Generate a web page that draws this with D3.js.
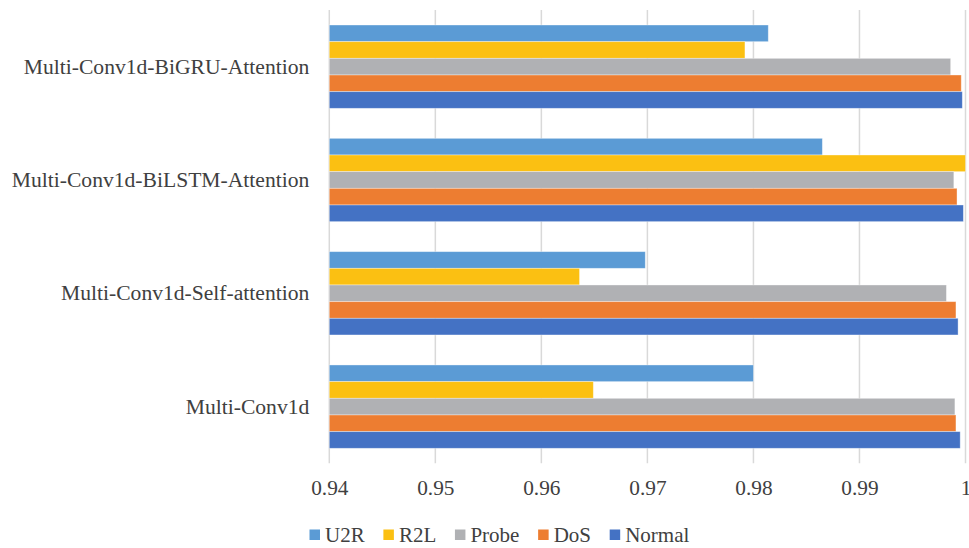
<!DOCTYPE html>
<html>
<head>
<meta charset="utf-8">
<script src="https://cdn.jsdelivr.net/npm/d3@7"></script>
<style>
  html, body { margin: 0; padding: 0; background: #fff; }
  svg { display: block; }
  svg text { font-family: 'Liberation Serif', 'Times New Roman', serif; fill: #404040; }
</style>
</head>
<body>
<svg id="chart" width="969" height="548"></svg>
<script>
// Models, listed bottom to top on the category axis
const models = ["Multi-Conv1d", "Multi-Conv1d-Self-attention", "Multi-Conv1d-BiLSTM-Attention", "Multi-Conv1d-BiGRU-Attention"];
// Attack classes, in legend order (top bar of each group first)
const classes = ["U2R", "R2L", "Probe", "DoS", "Normal"];
const classColors = ["#5B9BD5", "#FBC012", "#B0B1B4", "#ED7D31", "#4472C4"];

// Per-class scores for each model (same order as models)
const u2r    = [0.9800, 0.9698, 0.9865, 0.9814];
const r2l    = [0.9649, 0.9636, 1.0000, 0.9792];
const probe  = [0.9990, 0.9982, 0.9989, 0.9986];
const dos    = [0.9991, 0.9991, 0.9992, 0.9996];
const normal = [0.9995, 0.9993, 0.9998, 0.9997];
const seriesValues = [u2r, r2l, probe, dos, normal];

const xTicks = [0.94, 0.95, 0.96, 0.97, 0.98, 0.99, 1];
const xTickLabels = ["0.94", "0.95", "0.96", "0.97", "0.98", "0.99", "1"];

const FONT = "'Liberation Serif', 'Times New Roman', serif";
const svg = d3.select("#chart");
const plot = { left: 329.3, right: 965.5, top: 10, bottom: 463.3 };

const x = d3.scaleLinear().domain([0.94, 1]).range([plot.left, plot.right]);
const y0 = d3.scaleBand().domain(models.slice().reverse()).range([plot.top, plot.bottom]).paddingInner(30 / 113.3).paddingOuter(15 / 113.3);
const y1 = d3.scaleBand().domain(classes).range([0, y0.bandwidth()]);

// Vertical gridlines
svg.append("g")
  .selectAll("line")
  .data(xTicks)
  .join("line")
  .attr("x1", d => x(d)).attr("x2", d => x(d))
  .attr("y1", plot.top).attr("y2", plot.bottom)
  .attr("stroke", "#D9D9D9")
  .attr("stroke-width", 1.5);

// Bars
const groups = svg.append("g")
  .selectAll("g")
  .data(models)
  .join("g")
  .attr("transform", d => `translate(0,${y0(d)})`);

groups.selectAll("rect")
  .data((m, mi) => classes.map((c, ci) => ({ c, ci, v: seriesValues[ci][mi] })))
  .join("rect")
  .attr("x", x(0.94))
  .attr("y", d => y1(d.c))
  .attr("width", d => x(d.v) - x(0.94))
  .attr("height", y1.bandwidth())
  .attr("fill", d => classColors[d.ci])
  .attr("stroke", "#ffffff")
  .attr("stroke-opacity", 0.45)
  .attr("stroke-width", 0.8);

// Axes (labels only, no domain lines or tick marks)
const xAxis = d3.axisBottom(x).tickValues(xTicks).tickFormat((d, i) => xTickLabels[i]).tickSize(0).tickPadding(0);
const yAxis = d3.axisLeft(y0).tickSize(0).tickPadding(0);

const gy = svg.append("g").attr("transform", `translate(${plot.left - 20},0)`).call(yAxis);
gy.attr("font-family", null);
gy.select(".domain").remove();
gy.selectAll("text")
  .style("font-family", FONT)
  .style("font-size", "21.6px")
  .style("fill", "#404040")
  .attr("dy", "0.32em");

const gx = svg.append("g").attr("transform", `translate(0,${plot.bottom + 17})`).call(xAxis);
gx.attr("font-family", null);
gx.select(".domain").remove();
gx.selectAll("text")
  .style("font-family", FONT)
  .style("font-size", "21.3px")
  .style("fill", "#404040")
  .attr("dy", "0.71em");

// Legend
const legend = svg.append("g").attr("transform", "translate(309.5,535)");
let lx = 0;
classes.forEach((c, i) => {
  const item = legend.append("g").attr("transform", `translate(${lx},0)`);
  item.append("rect").attr("x", 0).attr("y", -5.5).attr("width", 10.5).attr("height", 10.5).attr("fill", classColors[i]);
  const t = item.append("text")
    .attr("x", 15.5).attr("y", 0).attr("dy", "0.34em")
    .style("font-family", FONT)
    .style("font-size", "21px")
    .style("fill", "#404040")
    .text(c);
  lx += 15.5 + t.node().getComputedTextLength() + 18.7;
});
</script>
</body>
</html>
